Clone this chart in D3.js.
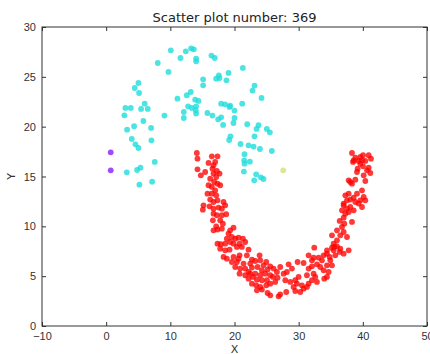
<!DOCTYPE html>
<html>
<head>
<meta charset="utf-8">
<script src="https://cdn.jsdelivr.net/npm/d3@7"></script>
<style>
  body { margin: 0; background: #fff; }
  svg { font-family: "DejaVu Sans", sans-serif; }
</style>
</head>
<body>
<div class="scatter-chart"></div>
<script>
// cluster 0: two purple points
const purplePoints = [[0.71, 17.43], [0.71, 15.62]];

// cluster 1: single pale yellow point
const yellowPoints = [[27.59, 15.62]];

// cluster 2: cyan arc
const cyanPoints = [
  [10.07, 27.66], [12.41, 27.56], [13.24, 27.86], [13.66, 27.76], [11.58, 26.89], [14.02, 26.83],
  [14.02, 26.56], [16.41, 27.13], [16.93, 26.89], [8.04, 26.39], [9.71, 25.49], [21.30, 25.89],
  [17.56, 25.15], [19.07, 25.39], [17.14, 24.82], [17.66, 24.88], [18.75, 24.65], [15.11, 24.75],
  [15.11, 24.15], [5.03, 24.38], [4.45, 23.88], [5.13, 23.38], [23.12, 24.12], [22.81, 23.62],
  [24.21, 22.88], [11.11, 22.81], [12.57, 23.15], [13.19, 23.48], [13.87, 22.71], [14.39, 22.58],
  [6.01, 22.31], [3.00, 21.88], [3.83, 21.88], [5.44, 21.78], [6.48, 21.78], [2.84, 21.14],
  [9.08, 21.11], [12.10, 21.47], [12.77, 22.04], [13.35, 21.88], [14.02, 22.04], [13.97, 21.64],
  [14.02, 21.31], [12.10, 20.87], [15.78, 21.37], [16.56, 21.11], [17.45, 20.74], [17.92, 20.94],
  [17.92, 22.31], [18.54, 22.24], [19.22, 21.98], [19.32, 22.11], [20.00, 21.61], [21.20, 22.31],
  [20.00, 20.87], [19.84, 20.37], [18.23, 20.17], [21.98, 20.24], [23.75, 20.14], [23.43, 19.77],
  [25.04, 19.77], [25.51, 19.43], [5.80, 20.57], [4.35, 20.04], [3.26, 19.70], [7.00, 19.87],
  [23.12, 19.03], [19.37, 19.03], [19.17, 18.66], [3.99, 18.77], [7.05, 18.63], [4.56, 18.23],
  [5.03, 17.86], [20.94, 18.26], [22.19, 18.13], [22.97, 18.00], [23.96, 17.76], [25.82, 17.56],
  [21.56, 17.23], [21.51, 16.62], [22.39, 16.49], [21.56, 16.29], [7.57, 16.46], [5.34, 15.89],
  [4.82, 15.65], [3.21, 15.42], [21.46, 15.49], [23.38, 15.22], [24.11, 14.92], [24.52, 14.75],
  [23.07, 14.62], [5.18, 14.18], [7.16, 14.48]
];

// cluster 3: red U shape
const redPoints = [
  [14.13, 17.36], [14.23, 16.79], [16.47, 17.02], [17.35, 17.02], [14.23, 15.72], [14.75, 15.12],
  [15.43, 15.45], [15.95, 16.36], [16.73, 16.12], [16.99, 16.46], [16.57, 15.79], [17.25, 15.55],
  [16.73, 15.29], [17.15, 14.95], [17.67, 15.29], [16.21, 14.78], [16.83, 14.45], [17.35, 14.28],
  [17.77, 14.12], [16.47, 13.95], [15.95, 14.12], [16.99, 13.61], [15.79, 13.28], [16.47, 13.28],
  [17.15, 13.11], [16.21, 12.68], [16.73, 12.44], [17.35, 12.61], [15.17, 12.11], [15.07, 11.67],
  [16.11, 12.01], [16.73, 11.77], [18.29, 12.44], [18.55, 12.11], [17.51, 11.88], [18.03, 11.77],
  [16.73, 11.27], [17.25, 11.11], [18.03, 11.11], [18.71, 11.21], [16.63, 10.60], [17.77, 10.60],
  [18.19, 10.27], [17.15, 10.00], [16.73, 9.60], [17.35, 9.67], [18.03, 9.77], [19.33, 9.60],
  [19.85, 9.87], [19.07, 9.27], [19.59, 8.93], [18.81, 8.76], [20.11, 8.76], [20.63, 8.87],
  [21.31, 8.76], [21.67, 8.43], [17.35, 8.26], [17.87, 8.20], [18.55, 8.26], [19.33, 8.43],
  [19.85, 8.26], [20.79, 8.26], [17.77, 7.76], [18.55, 7.59], [19.23, 7.66], [20.37, 7.93],
  [21.15, 7.93], [22.19, 7.66], [18.29, 6.93], [18.81, 6.76], [19.85, 6.93], [20.63, 6.76],
  [20.79, 7.09], [21.93, 7.09], [22.71, 6.66], [19.59, 6.42], [20.37, 6.42], [21.41, 6.26],
  [22.45, 6.26], [23.23, 6.52], [23.91, 7.09], [24.01, 6.59], [24.95, 6.42], [24.53, 6.09],
  [25.57, 5.99], [20.11, 5.92], [20.89, 5.76], [21.67, 5.76], [22.19, 5.42], [22.71, 5.86],
  [23.59, 5.92], [24.27, 5.59], [25.15, 5.66], [26.09, 5.76], [27.13, 5.92], [20.79, 5.25],
  [21.67, 5.09], [22.45, 5.25], [23.23, 5.25], [24.01, 5.09], [24.79, 5.25], [25.57, 5.09],
  [26.61, 5.42], [22.19, 4.75], [22.87, 4.92], [23.49, 4.65], [24.27, 4.59], [25.05, 4.59],
  [25.99, 4.92], [26.71, 4.85], [27.65, 5.25], [22.71, 4.25], [23.39, 4.08], [24.01, 3.92],
  [24.95, 4.08], [25.57, 4.25], [26.35, 4.42], [23.49, 3.58], [24.27, 3.65], [25.15, 3.31],
  [25.57, 3.08], [26.87, 2.98], [27.13, 3.18], [28.07, 3.41],
  [27.91, 4.59], [28.69, 4.42], [29.47, 4.59], [29.99, 4.92], [28.17, 5.42], [28.95, 5.76],
  [28.43, 6.19], [29.83, 6.42], [30.77, 6.32], [29.21, 3.92], [29.73, 4.25], [30.51, 4.08],
  [31.29, 3.92], [29.47, 3.51], [30.25, 3.41], [30.77, 3.75], [31.55, 4.25], [32.07, 4.59],
  [32.59, 4.92], [32.85, 4.42], [32.33, 5.25], [31.29, 5.09], [31.55, 5.76], [32.07, 5.99],
  [32.85, 6.19], [33.37, 5.92], [33.89, 5.59], [34.41, 6.09], [34.67, 5.42], [33.99, 4.75],
  [34.41, 4.92], [34.93, 6.59], [35.19, 6.09], [33.63, 6.59], [33.11, 6.86], [32.33, 6.86],
  [33.89, 7.09], [34.41, 7.26], [35.45, 7.59], [34.83, 6.93], [35.71, 7.09], [36.39, 7.43],
  [37.01, 7.26], [37.79, 7.59], [35.97, 7.99], [35.55, 7.93], [35.19, 7.86], [36.49, 7.76],
  [34.41, 7.59], [32.43, 7.86], [31.55, 7.09], [32.07, 6.59],
  [37.53, 8.93], [37.01, 9.43], [36.49, 9.10], [35.97, 8.60], [35.45, 8.26], [36.75, 9.94],
  [35.97, 9.60], [35.19, 9.10], [37.11, 10.27], [38.31, 10.44], [36.39, 10.54], [37.01, 10.87],
  [37.27, 11.27], [37.79, 11.44], [37.53, 11.77], [36.75, 11.61], [37.01, 12.11], [38.05, 11.94],
  [38.57, 11.61], [38.83, 12.44], [39.35, 12.28], [39.87, 11.94], [39.61, 12.61], [40.39, 12.61],
  [40.13, 12.95], [37.53, 12.61], [37.27, 13.11], [37.01, 12.28], [38.05, 12.68], [38.57, 12.88],
  [37.79, 13.28], [39.09, 13.28], [39.87, 13.61], [38.05, 14.45], [38.31, 14.28], [37.79, 14.62],
  [38.83, 14.68], [40.39, 14.55], [40.13, 15.12], [39.09, 15.45], [39.19, 15.79], [39.61, 16.29],
  [40.65, 15.62], [41.17, 15.35], [40.03, 16.02], [40.91, 15.89], [38.57, 16.62], [38.31, 17.36],
  [38.83, 16.89], [39.35, 16.56], [39.61, 16.96], [40.03, 17.13], [40.91, 17.13], [41.27, 16.79],
  [40.39, 16.56], [39.87, 16.63], [38.47, 16.46]
];

const xTicks = [-10, 0, 10, 20, 30, 40, 50];
const yTicks = [0, 5, 10, 15, 20, 25, 30];

const margin = { top: 27, right: 3, bottom: 28, left: 42 };
const width = 430 - margin.left - margin.right;
const height = 354 - margin.top - margin.bottom;

const svg = d3.select('.scatter-chart').append('svg')
  .attr('width', 430)
  .attr('height', 354);

const g = svg.append('g')
  .attr('transform', 'translate(' + margin.left + ',' + margin.top + ')');

const x = d3.scaleLinear().domain([-10, 50]).range([0, width]);
const y = d3.scaleLinear().domain([0, 30]).range([height, 0]);

const groups = [
  { data: cyanPoints, color: '#1fdcdc', opacity: 0.8 },
  { data: redPoints, color: '#ff0000', opacity: 0.78 },
  { data: purplePoints, color: '#8a1cff', opacity: 0.8 },
  { data: yellowPoints, color: '#cfdc6a', opacity: 0.7 }
];

groups.forEach(grp => {
  g.append('g')
    .selectAll('circle')
    .data(grp.data)
    .enter().append('circle')
    .attr('cx', d => x(d[0]))
    .attr('cy', d => y(d[1]))
    .attr('r', 2.9)
    .attr('fill', grp.color)
    .attr('fill-opacity', grp.opacity);
});

// matplotlib classic style: inward ticks on all four sides
const styleAxis = sel => {
  sel.select('.domain').remove();
  sel.selectAll('.tick line').attr('stroke', '#333');
  sel.selectAll('.tick text').attr('fill', '#333').attr('font-size', 11);
};

g.append('g')
  .attr('transform', 'translate(0,' + height + ')')
  .call(d3.axisBottom(x).tickValues(xTicks).tickSizeInner(-4).tickSizeOuter(0).tickPadding(6)
    .tickFormat(d => d < 0 ? '\u2212' + Math.abs(d) : d))
  .call(styleAxis);

g.append('g')
  .call(d3.axisTop(x).tickValues(xTicks).tickSizeInner(-4).tickSizeOuter(0).tickFormat(''))
  .call(styleAxis);

g.append('g')
  .call(d3.axisLeft(y).tickValues(yTicks).tickSizeInner(-4).tickSizeOuter(0).tickPadding(6))
  .call(styleAxis);

g.append('g')
  .attr('transform', 'translate(' + width + ',0)')
  .call(d3.axisRight(y).tickValues(yTicks).tickSizeInner(-4).tickSizeOuter(0).tickFormat(''))
  .call(styleAxis);

g.append('rect')
  .attr('width', width)
  .attr('height', height)
  .attr('fill', 'none')
  .attr('stroke', '#333')
  .attr('stroke-width', 1);

svg.append('text')
  .attr('x', margin.left + width / 2)
  .attr('y', 22)
  .attr('text-anchor', 'middle')
  .attr('font-size', 13)
  .attr('fill', '#222')
  .text('Scatter plot number: 369');

svg.append('text')
  .attr('x', margin.left + width / 2)
  .attr('y', 353)
  .attr('text-anchor', 'middle')
  .attr('font-size', 11)
  .attr('fill', '#333')
  .text('X');

svg.append('text')
  .attr('transform', 'translate(15,' + (margin.top + height / 2) + ') rotate(-90)')
  .attr('text-anchor', 'middle')
  .attr('font-size', 11)
  .attr('fill', '#333')
  .text('Y');
</script>
</body>
</html>
